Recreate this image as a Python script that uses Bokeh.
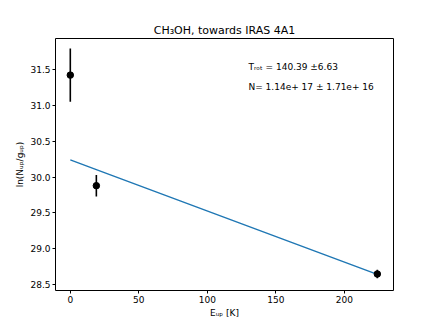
from bokeh.plotting import figure
from bokeh.models import Range1d, Label, FixedTicker, PrintfTickFormatter
from bokeh.embed import file_html
from bokeh.resources import INLINE
import numpy as np

# Data
e_up = [0.0, 19.0, 224.0]
ln_n = [31.42, 29.88, 28.65]
ln_err = [0.37, 0.15, 0.06]
t_rot = 140.39
t_rot_err = 6.63
fit_intercept = 30.24
n_text = "N= 1.14e+ 17 \u00b1 1.71e+ 16"
x_ticks = [0, 50, 100, 150, 200]
y_ticks = [28.5, 29.0, 29.5, 30.0, 30.5, 31.0, 31.5]

FONT = "DejaVu Sans"

p = figure(width=436, height=326, output_backend="svg", toolbar_location=None,
           x_range=Range1d(-10.8, 235.8), y_range=Range1d(28.42, 31.93),
           min_border_left=55, min_border_right=43, min_border_top=38, min_border_bottom=36)
p.title.text = "CH\u2083OH, towards IRAS 4A1"
p.title.align = "center"
p.title.text_font = FONT
p.title.text_font_style = "normal"
p.title.text_font_size = "11px"
p.title.text_color = "black"
p.title.offset = 0
p.title.standoff = 4

p.xgrid.visible = False
p.ygrid.visible = False
p.outline_line_color = "black"
p.outline_line_width = 1
p.outline_line_alpha = 1
p.background_fill_color = "white"
p.border_fill_color = "white"

for ax in (p.xaxis[0], p.yaxis[0]):
    ax.major_label_text_font = FONT
    ax.major_label_text_font_size = "9px"
    ax.major_label_text_color = "black"
    ax.axis_label_text_font = FONT
    ax.axis_label_text_font_size = "9px"
    ax.axis_label_text_font_style = "normal"
    ax.axis_label_text_color = "black"
    ax.major_tick_in = 0
    ax.major_tick_out = 3
    ax.minor_tick_in = 0
    ax.minor_tick_out = 0
    ax.axis_line_color = None
    ax.major_tick_line_color = "black"
    ax.major_label_standoff = 2
    ax.axis_label_standoff = 2

p.xaxis[0].ticker = FixedTicker(ticks=x_ticks)
p.yaxis[0].ticker = FixedTicker(ticks=y_ticks)
p.yaxis[0].formatter = PrintfTickFormatter(format="%.1f")
p.xaxis[0].axis_label = "E\u1d64\u209a [K]"
p.yaxis[0].axis_label = "ln(N\u1d64\u209a/g\u1d64\u209a)"

# fit line
fit_x = np.array(e_up)
fit_y = fit_intercept - fit_x / t_rot
p.line(fit_x, fit_y, line_color="#1f77b4", line_width=1.4)

# error bars
xs = [[x, x] for x in e_up]
ys = [[y - e, y + e] for y, e in zip(ln_n, ln_err)]
p.multi_line(xs, ys, line_color="black", line_width=1.6)
p.scatter(e_up, ln_n, size=6.5, color="black")

p.add_layout(Label(x=130, y=31.54, text=f"T\u1d63\u2092\u209c = {t_rot:.2f} \u00b1{t_rot_err:.2f}",
                   text_font=FONT, text_font_size="9px", text_baseline="middle", text_color="black"))
p.add_layout(Label(x=130, y=31.25, text=n_text,
                   text_font=FONT, text_font_size="9px", text_baseline="middle", text_color="black"))

open("out.html", "w").write(file_html(p, INLINE))
